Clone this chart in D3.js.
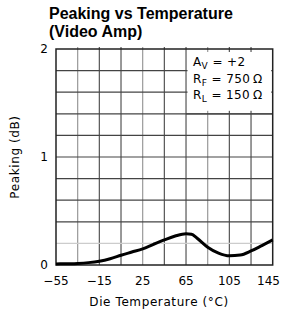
<!DOCTYPE html>
<html lang="en">
<head>
    <meta charset="UTF-8">
    <title>Peaking vs Temperature</title>
    <style>
        body { margin: 0; background: #fff; }
        text { font-family: "DejaVu Sans", sans-serif; fill: #000; }
    </style>
</head>
<body>
<script src='https://d3js.org/d3.v7.min.js'></script>
<script>
    // values
    const temps = [-55, -45, -35, -25, -15, -5, 5, 15, 25, 35, 45, 55, 65, 70, 75, 85, 95, 105, 115, 125, 135, 145];
    const peaking = [0.01, 0.012, 0.015, 0.022, 0.035, 0.058, 0.09, 0.12, 0.15, 0.192, 0.232, 0.268, 0.29, 0.285, 0.25, 0.165, 0.11, 0.085, 0.092, 0.13, 0.18, 0.232];
    const xTickLabels = [-55, -15, 25, 65, 105, 145];
    const yTickLabels = [0, 1, 2];
    const legendLines = [["A", "V", " =  +2"], ["R", "F", "  =  750\u2009\u03A9"], ["R", "L", "  =  150\u2009\u03A9"]];

    function drawChart() {
        const width = 281, height = 316;
        const left = 56, right = 272.7, top = 49, bottom = 265;

        const svg = d3.select("body")
            .append("svg")
            .attr("width", width)
            .attr("height", height);

        const x = d3.scaleLinear().domain([-55, 145]).range([left, right]);
        const y = d3.scaleLinear().domain([0, 2]).range([bottom, top]);

        // title
        svg.append("text")
            .attr("x", 49).attr("y", 19)
            .style("font-family", "'Liberation Sans', Arial, sans-serif")
            .style("font-weight", "bold").style("font-size", "16px")
            .text("Peaking vs Temperature");
        svg.append("text")
            .attr("x", 49).attr("y", 37)
            .style("font-family", "'Liberation Sans', Arial, sans-serif")
            .style("font-weight", "bold").style("font-size", "16px")
            .text("(Video Amp)");

        // grid, every 20 deg and 0.2 dB
        const lightX = [-35, 25, 85];
        svg.append("g").selectAll("line")
            .data(d3.range(-35, 145, 20))
            .enter().append("line")
            .attr("x1", d => x(d)).attr("x2", d => x(d))
            .attr("y1", top - 2).attr("y2", bottom)
            .attr("stroke", d => lightX.includes(d) ? "#999" : "#555")
            .attr("stroke-width", 1.2);
        svg.append("g").selectAll("line")
            .data(d3.range(1, 10).map(i => i * 0.2))
            .enter().append("line")
            .attr("x1", left).attr("x2", right)
            .attr("y1", d => y(d)).attr("y2", d => y(d))
            .attr("stroke", (d, i) => i === 0 ? "#ccc" : "#444")
            .attr("stroke-width", 1.2);

        // legend box covers the grid in the upper right corner
        svg.append("rect")
            .attr("x", x(65) + 1.5).attr("y", top + 3)
            .attr("width", right - x(65) - 3).attr("height", y(1.4) - top - 6)
            .attr("fill", "#fff");
        svg.append("line")
            .attr("x1", x(65)).attr("x2", right)
            .attr("y1", y(1.4)).attr("y2", y(1.4))
            .attr("stroke", "#444").attr("stroke-width", 1.2);

        const legend = svg.append("g");
        legendLines.forEach((l, i) => {
            const t = legend.append("text")
                .attr("x", 193).attr("y", 66 + i * 16.5)
                .style("font-size", "12px").style("letter-spacing", "0.4px");
            t.append("tspan").text(l[0]);
            t.append("tspan").attr("dy", 3).style("font-size", "9px").text(l[1]);
            t.append("tspan").attr("dy", -3).text(l[2]);
        });

        // frame
        svg.append("rect")
            .attr("x", left).attr("y", top)
            .attr("width", right - left).attr("height", bottom - top)
            .attr("fill", "none").attr("stroke", "#222").attr("stroke-width", 1.5);

        // curve
        svg.append("path")
            .datum(temps.map((t, i) => ({x: t, y: peaking[i]})))
            .attr("fill", "none")
            .attr("stroke", "#000")
            .attr("stroke-width", 3)
            .attr("d", d3.line()
                .x(d => x(d.x))
                .y(d => y(d.y))
                .curve(d3.curveMonotoneX));

        // tick labels, kept inside the page at the right edge
        svg.append("g").selectAll("text")
            .data(xTickLabels)
            .enter().append("text")
            .attr("y", 285)
            .attr("text-anchor", "middle")
            .style("font-size", "12px")
            .text(d => d < 0 ? "\u2212" + Math.abs(d) : d)
            .attr("x", function (d) {
                const w = this.getComputedTextLength();
                return Math.min(x(d), width - 1 - w / 2);
            });
        svg.append("g").selectAll("text")
            .data(yTickLabels)
            .enter().append("text")
            .attr("x", 48).attr("y", d => y(d) + 4)
            .attr("text-anchor", "end")
            .style("font-size", "12px")
            .text(d => d);

        // axis titles
        svg.append("text")
            .attr("x", 159).attr("y", 306)
            .attr("text-anchor", "middle")
            .style("font-size", "12px").style("letter-spacing", "0.6px")
            .text("Die Temperature (\u00B0C)");
        svg.append("text")
            .attr("transform", "translate(19,157) rotate(-90)")
            .attr("text-anchor", "middle")
            .style("font-size", "12px").style("letter-spacing", "0.6px")
            .text("Peaking (dB)");
    }

    drawChart();
</script>
</body>
</html>
